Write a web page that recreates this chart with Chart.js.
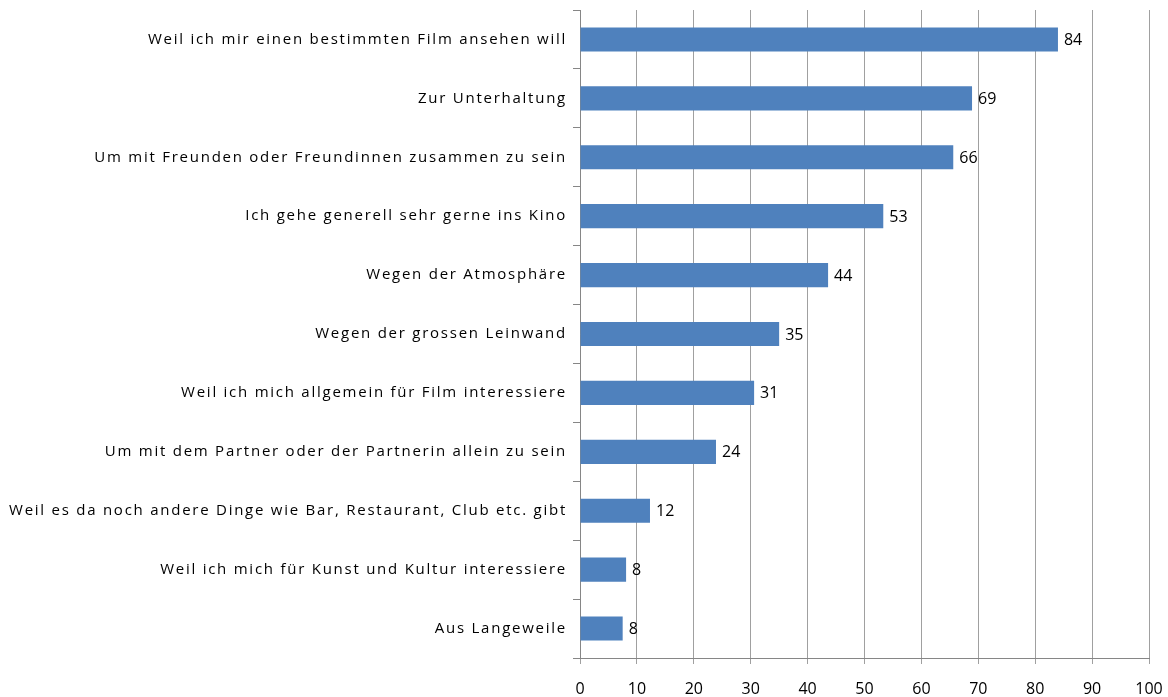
<!DOCTYPE html>
<html lang="de">
<head>
    <meta charset="UTF-8">
    <title>Gründe für den Kinobesuch</title>
    <script src="https://cdn.jsdelivr.net/npm/chart.js"></script>
    <style>
        body {
            margin: 0;
            padding: 0;
            background: #ffffff;
        }
        .chart-container {
            width: 1168px;
            height: 697px;
        }
    </style>
</head>
<body>
    <div class="chart-container">
        <canvas id="reasonsChart"></canvas>
    </div>

    <script>
        const categories = [
            'Weil ich mir einen bestimmten Film ansehen will',
            'Zur Unterhaltung',
            'Um mit Freunden oder Freundinnen zusammen zu sein',
            'Ich gehe generell sehr gerne ins Kino',
            'Wegen der Atmosphäre',
            'Wegen der grossen Leinwand',
            'Weil ich mich allgemein für Film interessiere',
            'Um mit dem Partner oder der Partnerin allein zu sein',
            'Weil es da noch andere Dinge wie Bar, Restaurant, Club etc. gibt',
            'Weil ich mich für Kunst und Kultur interessiere',
            'Aus Langeweile'
        ];
        const percentValues = [84, 68.9, 65.6, 53.3, 43.6, 35, 30.6, 23.9, 12.3, 8.1, 7.5];
        const xTicks = [0, 10, 20, 30, 40, 50, 60, 70, 80, 90, 100];

        // category names are drawn by hand so they can get the wide letter spacing of the original
        const categoryLabels = {
            id: 'categoryLabels',
            afterDraw(chart) {
                const ctx = chart.ctx;
                const yScale = chart.scales.y;
                ctx.save();
                ctx.font = '15px "Open Sans"';
                ctx.letterSpacing = '1.75px';
                ctx.fillStyle = '#000';
                ctx.textAlign = 'right';
                ctx.textBaseline = 'middle';
                categories.forEach((name, i) => {
                    ctx.fillText(name, yScale.right - 13, yScale.getPixelForTick(i));
                });
                ctx.restore();
            }
        };

        // writes the rounded value right of each bar
        const valueLabels = {
            id: 'valueLabels',
            afterDatasetsDraw(chart) {
                const ctx = chart.ctx;
                const meta = chart.getDatasetMeta(0);
                ctx.save();
                ctx.font = '16px "Open Sans"';
                ctx.fillStyle = '#000';
                ctx.textBaseline = 'middle';
                meta.data.forEach((bar, i) => {
                    ctx.fillText(Math.round(percentValues[i]), bar.x + 6, bar.y + 1);
                });
                ctx.restore();
            }
        };

        const ctx = document.getElementById('reasonsChart').getContext('2d');
        new Chart(ctx, {
            type: 'bar',
            data: {
                labels: categories,
                datasets: [{
                    data: percentValues,
                    backgroundColor: '#4f81bd',
                    borderWidth: 0,
                    categoryPercentage: 1,
                    barPercentage: 0.41
                }]
            },
            options: {
                indexAxis: 'y',
                responsive: true,
                maintainAspectRatio: false,
                animation: false,
                layout: {
                    padding: { top: 10, right: 19, left: 0, bottom: 0 }
                },
                plugins: {
                    legend: { display: false },
                    tooltip: { enabled: false }
                },
                scales: {
                    x: {
                        min: 0,
                        max: 100,
                        afterBuildTicks: (scale) => {
                            scale.ticks = xTicks.map(v => ({ value: v }));
                        },
                        afterFit: (scale) => {
                            scale.height = 39;
                            scale.paddingRight = 19;
                        },
                        grid: {
                            color: '#a0a0a0',
                            lineWidth: 1,
                            drawTicks: true,
                            tickLength: 6
                        },
                        border: { color: '#868686', width: 1 },
                        ticks: {
                            color: '#000',
                            font: { family: 'Open Sans', size: 16 },
                            padding: 16,
                            maxRotation: 0
                        }
                    },
                    y: {
                        afterFit: (scale) => { scale.width = 580; },
                        grid: {
                            offset: true,
                            drawOnChartArea: false,
                            drawTicks: true,
                            tickLength: 7,
                            color: '#868686'
                        },
                        border: { color: '#868686', width: 1 },
                        ticks: {
                            display: false,
                            autoSkip: false
                        }
                    }
                }
            },
            plugins: [categoryLabels, valueLabels]
        });
    </script>
</body>
</html>
